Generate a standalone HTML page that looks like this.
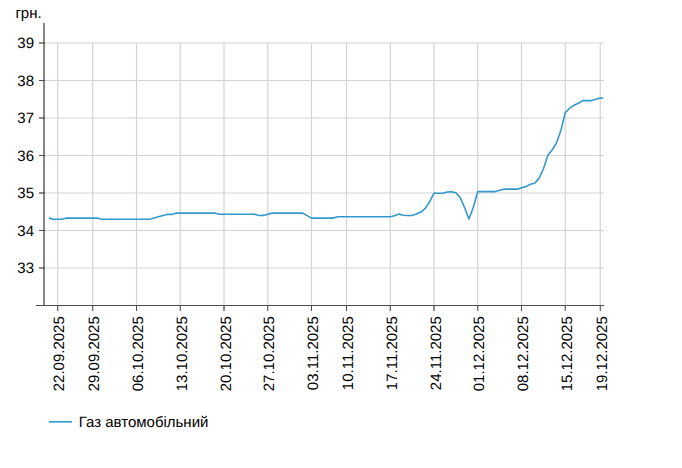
<!DOCTYPE html>
<html><head><meta charset="utf-8"><title>Газ автомобільний</title>
<style>
html,body{margin:0;padding:0;background:#fff;}
svg{display:block;font-family:"Liberation Sans",Arial,sans-serif;font-size:15px;text-rendering:geometricPrecision;}
</style></head><body>
<svg width="682" height="468" viewBox="0 0 682 468">
<rect width="682" height="468" fill="#fff"/>
<g stroke="#d3d3d3" stroke-width="1" fill="none">
<line x1="45" x2="604" y1="268.00" y2="268.00" stroke-width="1.2"/>
<line x1="45" x2="604" y1="230.50" y2="230.50" stroke-width="1.2"/>
<line x1="45" x2="604" y1="193.00" y2="193.00" stroke-width="1.2"/>
<line x1="45" x2="604" y1="155.50" y2="155.50" stroke-width="1.2"/>
<line x1="45" x2="604" y1="118.00" y2="118.00" stroke-width="1.2"/>
<line x1="45" x2="604" y1="80.50" y2="80.50" stroke-width="1.2"/>
<line x1="45" x2="604" y1="43.00" y2="43.00" stroke-width="1.2"/>
<line x1="57.75" x2="57.75" y1="43.00" y2="305" stroke-width="1.2"/>
<line x1="92.75" x2="92.75" y1="43.00" y2="305" stroke-width="1.2"/>
<line x1="136.5" x2="136.5" y1="43.00" y2="305" stroke-width="1.2"/>
<line x1="180.25" x2="180.25" y1="43.00" y2="305" stroke-width="1.2"/>
<line x1="224.0" x2="224.0" y1="43.00" y2="305" stroke-width="1.2"/>
<line x1="267.75" x2="267.75" y1="43.00" y2="305" stroke-width="1.2"/>
<line x1="311.5" x2="311.5" y1="43.00" y2="305" stroke-width="1.2"/>
<line x1="346.5" x2="346.5" y1="43.00" y2="305" stroke-width="1.2"/>
<line x1="390.25" x2="390.25" y1="43.00" y2="305" stroke-width="1.2"/>
<line x1="434.0" x2="434.0" y1="43.00" y2="305" stroke-width="1.2"/>
<line x1="477.75" x2="477.75" y1="43.00" y2="305" stroke-width="1.2"/>
<line x1="521.5" x2="521.5" y1="43.00" y2="305" stroke-width="1.2"/>
<line x1="565.25" x2="565.25" y1="43.00" y2="305" stroke-width="1.2"/>
<line x1="600.25" x2="600.25" y1="43.00" y2="305" stroke-width="1.2"/>
</g>
<rect x="43" y="23" width="2" height="282" fill="#888888"/>
<g stroke="#4d4d4d" stroke-width="1" fill="none">
<line x1="39" x2="45" y1="268.00" y2="268.00" stroke-width="1.3"/>
<line x1="39" x2="45" y1="230.50" y2="230.50" stroke-width="1"/>
<line x1="39" x2="45" y1="193.00" y2="193.00" stroke-width="1.3"/>
<line x1="39" x2="45" y1="155.50" y2="155.50" stroke-width="1"/>
<line x1="39" x2="45" y1="118.00" y2="118.00" stroke-width="1.3"/>
<line x1="39" x2="45" y1="80.50" y2="80.50" stroke-width="1"/>
<line x1="39" x2="45" y1="43.00" y2="43.00" stroke-width="1.3"/>
<line x1="36" x2="604" y1="305.5" y2="305.5"/>
<line x1="57.75" x2="57.75" y1="305.5" y2="311" stroke-width="1.1"/>
<line x1="92.75" x2="92.75" y1="305.5" y2="311" stroke-width="1.1"/>
<line x1="136.5" x2="136.5" y1="305.5" y2="311" stroke-width="1.0"/>
<line x1="180.25" x2="180.25" y1="305.5" y2="311" stroke-width="1.1"/>
<line x1="224.0" x2="224.0" y1="305.5" y2="311" stroke-width="1.3"/>
<line x1="267.75" x2="267.75" y1="305.5" y2="311" stroke-width="1.1"/>
<line x1="311.5" x2="311.5" y1="305.5" y2="311" stroke-width="1.0"/>
<line x1="346.5" x2="346.5" y1="305.5" y2="311" stroke-width="1.0"/>
<line x1="390.25" x2="390.25" y1="305.5" y2="311" stroke-width="1.1"/>
<line x1="434.0" x2="434.0" y1="305.5" y2="311" stroke-width="1.3"/>
<line x1="477.75" x2="477.75" y1="305.5" y2="311" stroke-width="1.1"/>
<line x1="521.5" x2="521.5" y1="305.5" y2="311" stroke-width="1.0"/>
<line x1="565.25" x2="565.25" y1="305.5" y2="311" stroke-width="1.1"/>
<line x1="600.25" x2="600.25" y1="305.5" y2="311" stroke-width="1.1"/>
</g>
<g fill="#000000" text-anchor="end">
<text transform="translate(34,273.00) scale(1,1)">33</text>
<text transform="translate(34,235.50) scale(1,1)">34</text>
<text transform="translate(34,198.00) scale(1,1)">35</text>
<text transform="translate(34,160.50) scale(1,1)">36</text>
<text transform="translate(34,123.00) scale(1,1)">37</text>
<text transform="translate(34,85.50) scale(1,1)">38</text>
<text transform="translate(34,48.00) scale(1,1)">39</text>
</g>
<text transform="translate(15.4,18) scale(1,1)" fill="#000000">грн.</text>
<g fill="#000000" text-anchor="end">
<text transform="translate(64.35,316.2) rotate(-90) scale(1,1)">22.09.2025</text>
<text transform="translate(99.35,316.2) rotate(-90) scale(1,1)">29.09.2025</text>
<text transform="translate(143.10,316.2) rotate(-90) scale(1,1)">06.10.2025</text>
<text transform="translate(186.85,316.2) rotate(-90) scale(1,1)">13.10.2025</text>
<text transform="translate(230.60,316.2) rotate(-90) scale(1,1)">20.10.2025</text>
<text transform="translate(274.35,316.2) rotate(-90) scale(1,1)">27.10.2025</text>
<text transform="translate(318.10,316.2) rotate(-90) scale(1,1)">03.11.2025</text>
<text transform="translate(353.10,316.2) rotate(-90) scale(1,1)">10.11.2025</text>
<text transform="translate(396.85,316.2) rotate(-90) scale(1,1)">17.11.2025</text>
<text transform="translate(440.60,316.2) rotate(-90) scale(1,1)">24.11.2025</text>
<text transform="translate(484.35,316.2) rotate(-90) scale(1,1)">01.12.2025</text>
<text transform="translate(528.10,316.2) rotate(-90) scale(1,1)">08.12.2025</text>
<text transform="translate(571.85,316.2) rotate(-90) scale(1,1)">15.12.2025</text>
<text transform="translate(606.85,316.2) rotate(-90) scale(1,1)">19.12.2025</text>
</g>
<path d="M49.000,218.10 L53.375,219.20 L62.125,219.25 L66.500,218.10 L97.125,218.10 L101.500,219.25 L149.625,219.25 L154.000,218.00 L158.375,216.80 L162.750,215.60 L167.125,214.40 L171.500,214.40 L175.875,213.15 L215.250,213.15 L219.625,214.30 L254.625,214.30 L259.000,215.50 L263.375,215.40 L267.750,214.20 L272.125,213.15 L302.750,213.15 L307.125,215.60 L311.500,218.10 L333.375,218.10 L337.750,216.80 L390.250,216.80 L394.625,215.70 L399.000,214.10 L403.375,215.20 L407.750,215.50 L412.125,215.50 L416.500,213.90 L420.875,212.10 L425.250,208.40 L429.625,201.80 L434.000,193.20 L442.750,193.20 L447.125,192.00 L451.500,191.80 L455.875,192.70 L460.250,197.60 L464.625,207.80 L469.000,219.00 L473.375,207.00 L477.750,191.60 L495.250,191.60 L499.625,190.30 L504.000,189.15 L517.125,189.15 L521.500,187.70 L525.875,186.60 L530.250,184.20 L534.625,183.30 L539.000,178.40 L543.375,169.00 L547.750,155.40 L552.125,150.00 L556.500,142.80 L560.875,130.50 L565.250,112.60 L569.625,108.20 L574.000,105.30 L578.375,103.20 L582.750,100.60 L591.500,100.60 L595.875,99.30 L600.250,98.10 L603.250,98.00" fill="none" stroke="#3399cc" stroke-width="1.6" stroke-linejoin="round"/>
<line x1="49" x2="72" y1="421.8" y2="421.8" stroke="#3399cc" stroke-width="1.6"/>
<text transform="translate(78.7,427) scale(1,1)" fill="#000000">Газ автомобільний</text>
</svg>
</body></html>
